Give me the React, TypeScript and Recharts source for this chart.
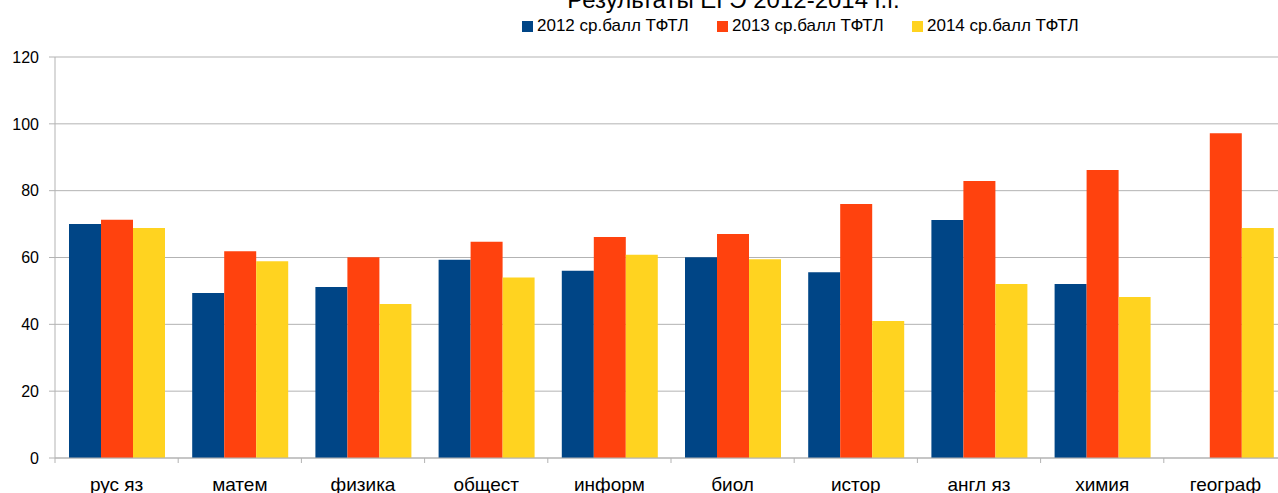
import { Bar, BarChart, CartesianGrid, XAxis, YAxis } from "recharts";

const subjects = ["рус яз", "матем", "физика", "общест", "информ", "биол", "истор", "англ яз", "химия", "географ"];
const score2012 = [70.0, 49.4, 51.2, 59.3, 56.0, 60.1, 55.6, 71.2, 52.1, null];
const score2013 = [71.3, 61.9, 60.1, 64.7, 66.1, 67.0, 76.0, 82.9, 86.2, 97.2];
const score2014 = [68.8, 58.9, 46.1, 54.0, 60.8, 59.5, 41.0, 52.1, 48.2, 68.8];
const yTicks = [0, 20, 40, 60, 80, 100, 120];

const series = [
  { key: "s2012", name: "2012 ср.балл ТФТЛ", color: "#004586" },
  { key: "s2013", name: "2013 ср.балл ТФТЛ", color: "#ff420e" },
  { key: "s2014", name: "2014 ср.балл ТФТЛ", color: "#ffd320" },
];

const data = subjects.map((label, i) => ({
  label,
  s2012: score2012[i],
  s2013: score2013[i],
  s2014: score2014[i],
}));

const W = 1290;
const H = 493;
const M = { top: 57, right: 3, bottom: 0, left: 0 };
const Y_W = 55;
const X_H = 35;
const CAT_W = (W - M.left - M.right - Y_W) / subjects.length;
const AXIS_Y = H - M.bottom - X_H;
const GRID = "#b3b3b3";
const FONT = "'Liberation Sans', Arial, sans-serif";

function SubjectTick({ x, payload }: any) {
  return (
    <g>
      <line x1={x - CAT_W / 2} x2={x - CAT_W / 2} y1={AXIS_Y} y2={AXIS_Y + 5} stroke={GRID} />
      <text x={x} y={AXIS_Y + 33} textAnchor="middle" fontSize={19} fill="#000" fontFamily={FONT}>
        {payload.value}
      </text>
    </g>
  );
}

// legend is plain html so it takes no room from the plot
function LegendRow() {
  return (
    <div style={{ position: "absolute", top: 17, left: 522, display: "flex", fontFamily: FONT, fontSize: 17, color: "#000", lineHeight: "17px", whiteSpace: "nowrap" }}>
      {series.map((s) => (
        <div key={s.key} style={{ width: 195, flexShrink: 0, display: "flex", alignItems: "center" }}>
          <span style={{ display: "inline-block", flexShrink: 0, width: 11, height: 11, background: s.color, marginRight: 4, marginTop: 2 }} />
          <span>{s.name}</span>
        </div>
      ))}
    </div>
  );
}

export default function App() {
  return (
    <div style={{ position: "fixed", left: 0, top: 0, width: 1278, height: H, overflow: "hidden", background: "#fff" }}>
      <div style={{ position: "absolute", left: 0, width: 1467, top: -12, textAlign: "center", fontFamily: FONT, fontSize: 24, lineHeight: "24px", color: "#000", whiteSpace: "nowrap" }}>
        Результаты ЕГЭ 2012-2014 г.г.
      </div>
      <LegendRow />
      <BarChart width={W} height={H} data={data} margin={M} barCategoryGap={14} barGap={0}>
        <CartesianGrid stroke={GRID} vertical={false} />
        <XAxis dataKey="label" height={X_H} axisLine={{ stroke: GRID }} tickLine={false} tick={<SubjectTick />} interval={0} />
        <YAxis
          width={Y_W}
          domain={[0, 120]}
          ticks={yTicks}
          axisLine={{ stroke: GRID }}
          tickLine={{ stroke: GRID }}
          tickSize={6}
          tickMargin={10}
          tick={{ fill: "#000", fontSize: 16, fontFamily: FONT }}
        />
        {series.map((s) => (
          <Bar key={s.key} dataKey={s.key} name={s.name} fill={s.color} isAnimationActive={false} />
        ))}
      </BarChart>
    </div>
  );
}
